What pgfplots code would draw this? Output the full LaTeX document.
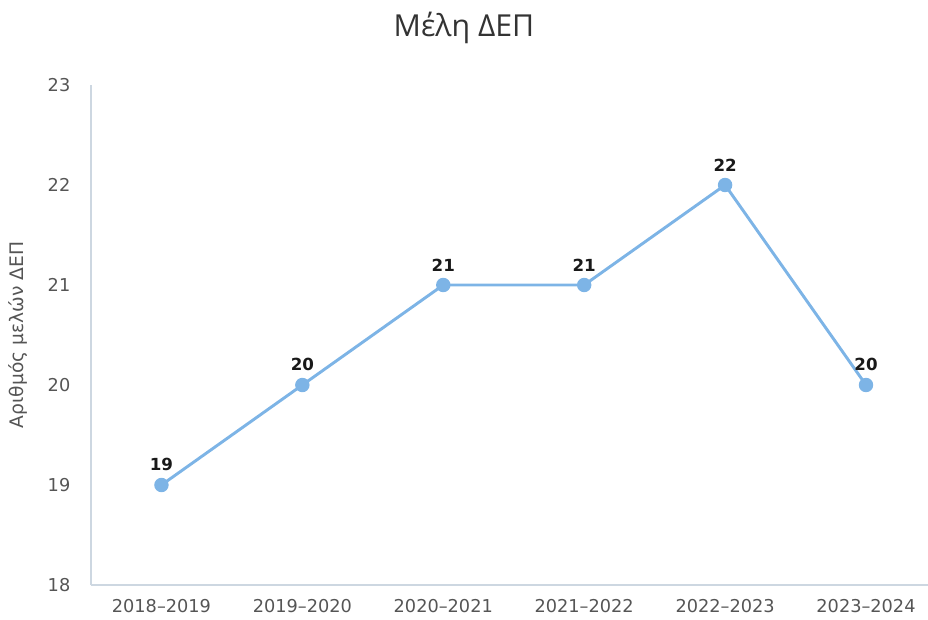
\documentclass[border=0pt]{standalone}
\usepackage{fontspec}
\setmainfont{DejaVu Sans}
\newfontfamily\titlefont{Open Sans}
\usepackage{pgfplots}
\pgfplotsset{compat=1.18}
\definecolor{linec}{HTML}{7DB4E6}
\definecolor{axc}{HTML}{CDD7E1}
\definecolor{tickc}{HTML}{555555}
\begin{document}
\begin{tikzpicture}
\useasboundingbox (0pt,0pt) rectangle (696pt,464.25pt);
\node[anchor=center, text=black!80] at (348pt,443.25pt) {\titlefont\fontsize{22.7}{26}\selectfont Μέλη ΔΕΠ};
\begin{axis}[
  at={(68.25pt,25.5pt)}, anchor=south west, scale only axis,
  width=627.75pt, height=375pt,
  xmin=-0.5, xmax=5.44, ymin=18, ymax=23,
  ytick={18,19,20,21,22,23},
  xtick={0,1,2,3,4,5},
  xticklabels={2018–2019,2019–2020,2020–2021,2021–2022,2022–2023,2023–2024},
  axis lines*=left,
  axis line style={axc, line width=1pt},
  major tick length=0pt,
  tick label style={text=tickc, font=\fontsize{13.3}{15}\selectfont},
  /pgf/number format/assume math mode=true,
  xticklabel style={yshift=-7pt},
  yticklabel style={xshift=-12pt},
  ylabel={Αριθμός μελών ΔΕΠ},
  ylabel style={text=tickc, font=\fontsize{14}{16}\selectfont, at={(axis description cs:-0.0872,0.5)}, anchor=center},
  clip=false,
  nodes near coords,
  every node near coord/.append style={font=\bfseries\fontsize{12.5}{14}\selectfont, text=black!90, yshift=6pt},
]
\addplot[color=linec, line width=2.2pt, mark=*, mark size=4.3pt, mark options={fill=linec, draw=linec}]
coordinates {(0,19) (1,20) (2,21) (3,21) (4,22) (5,20)};
\end{axis}
\end{tikzpicture}
\end{document}
